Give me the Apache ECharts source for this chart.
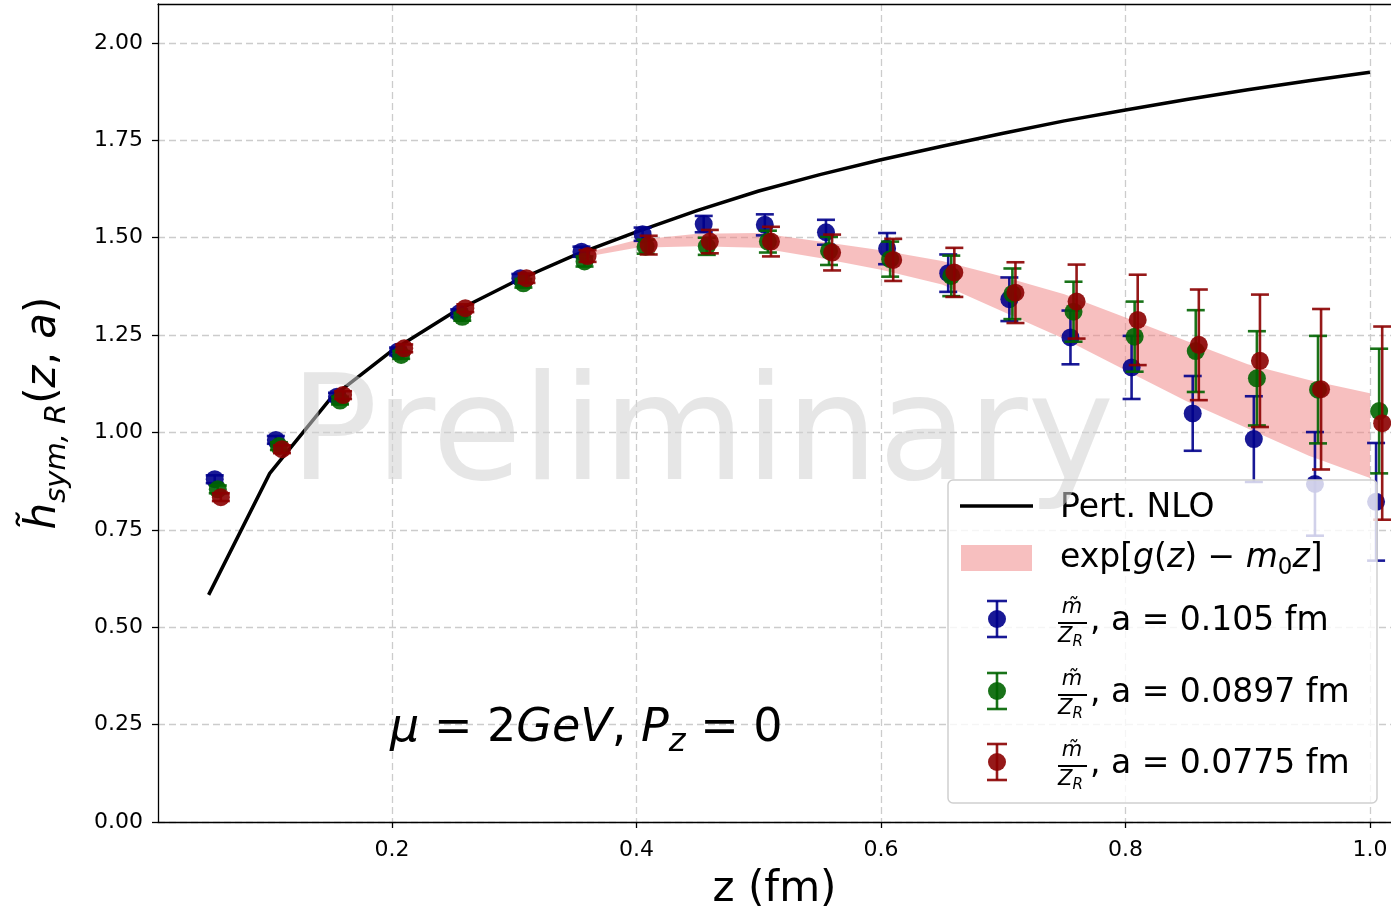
<!DOCTYPE html>
<html><head><meta charset="utf-8">
<script src="https://cdn.jsdelivr.net/npm/echarts@6/dist/echarts.min.js"></script>
<style>html,body{margin:0;padding:0;background:#fff}#c{width:1391px;height:914px}</style>
</head><body><div id="c"></div>
<script>
// ---- data ----
const xTicks = [0.2, 0.4, 0.6, 0.8, 1.0];
const yTicks = [0, 0.25, 0.5, 0.75, 1.0, 1.25, 1.5, 1.75, 2.0];

const nloZ = [0.05,0.10,0.15,0.20,0.25,0.30,0.35,0.40,0.45,0.50,0.55,0.60,0.65,0.70,0.75,0.80,0.85,0.90,0.95,1.00];
const nloV = [0.583,0.895,1.088,1.210,1.308,1.387,1.456,1.515,1.570,1.620,1.662,1.700,1.735,1.768,1.800,1.828,1.855,1.880,1.903,1.925];

const bandZ  = [0.36,0.40,0.45,0.50,0.55,0.60,0.65,0.70,0.75,0.80,0.85,0.90,0.95,1.00];
const bandHi = [1.462,1.494,1.510,1.512,1.490,1.468,1.440,1.400,1.355,1.295,1.235,1.175,1.135,1.101];
const bandLo = [1.452,1.474,1.478,1.474,1.448,1.418,1.380,1.310,1.240,1.160,1.080,1.010,0.940,0.883];

const zBlue  = [0.055,0.105,0.155,0.205,0.255,0.305,0.355,0.405,0.455,0.505,0.555,0.605,0.655,0.705,0.755,0.805,0.855,0.905,0.955,1.005];
const vBlue  = [0.880,0.981,1.092,1.208,1.306,1.396,1.464,1.509,1.535,1.533,1.514,1.472,1.409,1.342,1.244,1.167,1.049,0.983,0.868,0.822];
const eBlue  = [0.010,0.010,0.010,0.010,0.010,0.011,0.013,0.017,0.021,0.027,0.032,0.040,0.048,0.056,0.069,0.081,0.096,0.110,0.133,0.151];

const zGreen = [0.0575,0.1075,0.1575,0.2075,0.2575,0.3075,0.3575,0.4075,0.4575,0.5075,0.5575,0.6075,0.6575,0.7075,0.7575,0.8075,0.8575,0.9075,0.9575,1.0075];
const vGreen = [0.854,0.965,1.082,1.199,1.297,1.383,1.439,1.477,1.478,1.490,1.466,1.445,1.402,1.356,1.310,1.246,1.209,1.139,1.110,1.055];
const eGreen = [0.010,0.010,0.010,0.010,0.010,0.011,0.013,0.018,0.022,0.028,0.036,0.045,0.052,0.065,0.077,0.090,0.105,0.121,0.138,0.160];

const zRed   = [0.060,0.110,0.160,0.210,0.260,0.310,0.360,0.410,0.460,0.510,0.560,0.610,0.660,0.710,0.760,0.810,0.860,0.910,0.960,1.010];
const vRed   = [0.834,0.957,1.096,1.216,1.319,1.396,1.453,1.481,1.490,1.490,1.462,1.443,1.411,1.359,1.336,1.289,1.225,1.184,1.111,1.024];
const eRed   = [0.010,0.010,0.010,0.010,0.010,0.012,0.015,0.024,0.030,0.038,0.046,0.054,0.063,0.078,0.095,0.116,0.142,0.170,0.206,0.248];

const legendLabels = ['Pert. NLO', 'exp[g(z) − m₀z]', 'a = 0.105 fm', 'a = 0.0897 fm', 'a = 0.0775 fm'];

// ---- styles ----
const FONT = 'DejaVu Sans';
const C_BLUE = '#00008b', C_GREEN = '#006400', C_RED = '#8b0000';

function errRender(color) {
  return function (params, api) {
    const z = api.value(0), v = api.value(1), e = api.value(2);
    const t = api.coord([z, v + e]), b = api.coord([z, v - e]), c = api.coord([z, v]);
    const cw = 9;
    const ls = { stroke: color, lineWidth: 2.6, opacity: 0.9 };
    return { type: 'group', children: [
      { type: 'line', shape: { x1: t[0], y1: t[1], x2: b[0], y2: b[1] }, style: ls },
      { type: 'line', shape: { x1: t[0] - cw, y1: t[1], x2: t[0] + cw, y2: t[1] }, style: ls },
      { type: 'line', shape: { x1: b[0] - cw, y1: b[1], x2: b[0] + cw, y2: b[1] }, style: ls },
      { type: 'circle', shape: { cx: c[0], cy: c[1], r: 9 }, style: { fill: color, opacity: 0.9 } }
    ]};
  };
}
function errData(zs, vs, es) { return zs.map((z, i) => [z, vs[i], es[i]]); }

function bandRender(params, api) {
  if (params.dataIndex !== 0) return null;
  const pts = [];
  for (let i = 0; i < bandZ.length; i++) pts.push(api.coord([bandZ[i], bandHi[i]]));
  for (let i = bandZ.length - 1; i >= 0; i--) pts.push(api.coord([bandZ[i], bandLo[i]]));
  return { type: 'polygon', shape: { points: pts }, style: { fill: 'rgba(240,128,128,0.5)' } };
}

// legend graphic
const LX = 948, LY = 480;
function legendErrIcon(cy, color) {
  const x = 997;
  const ls = { stroke: color, lineWidth: 2.6, opacity: 0.9 };
  return [
    { type: 'line', z: 60, shape: { x1: x, y1: cy - 18, x2: x, y2: cy + 18 }, style: ls },
    { type: 'line', z: 60, shape: { x1: x - 10, y1: cy - 18, x2: x + 10, y2: cy - 18 }, style: ls },
    { type: 'line', z: 60, shape: { x1: x - 10, y1: cy + 18, x2: x + 10, y2: cy + 18 }, style: ls },
    { type: 'circle', z: 60, shape: { cx: x, cy: cy, r: 9 }, style: { fill: color, opacity: 0.9 } }
  ];
}
function legendFracLabel(cy, label) {
  return [
    { type: 'text', z: 60, x: 1072, y: cy - 11, style: { text: 'm\u0303', fontFamily: FONT, fontStyle: 'italic', fontSize: 21, fill: '#000', align: 'center', verticalAlign: 'middle' } },
    { type: 'line', z: 60, shape: { x1: 1058, y1: cy + 4, x2: 1087, y2: cy + 4 }, style: { stroke: '#000', lineWidth: 2 } },
    { type: 'text', z: 60, x: 1058, y: cy + 18, style: { text: '{i|Z}{s|R}', fontFamily: FONT, fontSize: 21, fill: '#000', align: 'left', verticalAlign: 'middle',
        rich: { i: { fontFamily: FONT, fontStyle: 'italic', fontSize: 21, lineHeight: 26, verticalAlign: 'middle', fill: '#000' },
                s: { fontFamily: FONT, fontStyle: 'italic', fontSize: 15, lineHeight: 15, verticalAlign: 'bottom', fill: '#000' } } } },
    { type: 'text', z: 60, x: 1090, y: cy + 2, style: { text: ', ' + label, fontFamily: FONT, fontSize: 33, fill: '#000', align: 'left', verticalAlign: 'middle' } }
  ];
}

const graphics = [
  { type: 'rect', z: 50, shape: { x: LX, y: LY, width: 429, height: 323, r: 5 }, style: { fill: 'rgba(255,255,255,0.8)', stroke: '#cfcfcf', lineWidth: 1.5 } },
  { type: 'line', z: 60, shape: { x1: 960, y1: 506, x2: 1033, y2: 506 }, style: { stroke: '#000', lineWidth: 3.5 } },
  { type: 'text', z: 60, x: 1060, y: 508, style: { text: legendLabels[0], fontFamily: FONT, fontSize: 33, fill: '#000', align: 'left', verticalAlign: 'middle' } },
  { type: 'rect', z: 60, shape: { x: 961, y: 545, width: 71, height: 26 }, style: { fill: 'rgba(240,128,128,0.5)' } },
  { type: 'text', z: 60, x: 1060, y: 558, style: {
      text: '{r|exp[}{i|g}{r|(}{i|z}{r|) − }{i|m}{s|0}{i|z}{r|]}', fontFamily: FONT, fontSize: 33, fill: '#000', align: 'left', verticalAlign: 'middle',
      rich: { r: { fontFamily: FONT, fontSize: 33, lineHeight: 44, verticalAlign: 'middle', fill: '#000' },
              i: { fontFamily: FONT, fontStyle: 'italic', fontSize: 33, lineHeight: 44, verticalAlign: 'middle', fill: '#000' },
              s: { fontFamily: FONT, fontSize: 23, lineHeight: 23, verticalAlign: 'bottom', fill: '#000' } } } },
  ...legendErrIcon(619, C_BLUE), ...legendFracLabel(619, legendLabels[2]),
  ...legendErrIcon(691, C_GREEN), ...legendFracLabel(691, legendLabels[3]),
  ...legendErrIcon(762, C_RED), ...legendFracLabel(762, legendLabels[4]),
  // annotation
  { type: 'text', z: 40, x: 390, y: 729, style: {
      text: '{i|μ}{r| = 2}{i|GeV}{r|, }{i|P}{s|z}{r| = 0}', fontFamily: FONT, fontSize: 46, fill: '#000', align: 'left', verticalAlign: 'middle',
      rich: { r: { fontFamily: FONT, fontSize: 46, lineHeight: 60, verticalAlign: 'middle', fill: '#000' },
              i: { fontFamily: FONT, fontStyle: 'italic', fontSize: 46, lineHeight: 60, verticalAlign: 'middle', fill: '#000' },
              s: { fontFamily: FONT, fontStyle: 'italic', fontSize: 32, lineHeight: 32, verticalAlign: 'bottom', fill: '#000' } } } },
  // watermark
  { type: 'text', z: 200, x: 702, y: 441, style: { text: 'Preliminary', fontFamily: FONT, fontSize: 146, fill: 'rgba(209,209,209,0.55)', align: 'center', verticalAlign: 'middle' } }
];

const X_MIN = 0.0086, X_MAX = 1.0172;
const chart = echarts.init(document.getElementById('c'), null, { renderer: 'canvas' });
chart.setOption({
  animation: false,
  backgroundColor: '#fff',
  grid: { left: 158, top: 4, right: 0, height: 818, containLabel: false, outerBoundsMode: 'none' },
  xAxis: [{
    type: 'value', min: X_MIN, max: X_MAX, position: 'bottom',
    name: 'z (fm)', nameLocation: 'middle', nameGap: 47,
    nameTextStyle: { fontFamily: FONT, fontSize: 42, color: '#000' },
    axisLine: { show: true, lineStyle: { color: '#000', width: 1.3 } },
    axisTick: { show: true, customValues: xTicks, length: 6, lineStyle: { color: '#000', width: 1.3 } },
    axisLabel: { customValues: xTicks, formatter: v => v.toFixed(1), fontFamily: FONT, fontSize: 22, color: '#000', margin: 17 },
    splitLine: { show: true, lineStyle: { color: '#cccccc', type: [7, 4], width: 1.3 } }
  }, {
    type: 'value', min: X_MIN, max: X_MAX, position: 'top',
    axisLine: { show: true, lineStyle: { color: '#000', width: 1.3 } },
    axisTick: { show: false }, axisLabel: { show: false }, splitLine: { show: false }
  }],
  yAxis: {
    type: 'value', min: 0, max: 2.1,
    name: '{h|h\u0303}{s|sym, R}{p|(}{i|z}{p|, }{i|a}{p|)}', nameLocation: 'middle', nameRotate: 90, nameGap: 86,
    nameTextStyle: { fontFamily: FONT, fontSize: 42, color: '#000',
      rich: { h: { fontFamily: FONT, fontStyle: 'italic', fontSize: 42, lineHeight: 56, verticalAlign: 'middle', color: '#000' },
              i: { fontFamily: FONT, fontStyle: 'italic', fontSize: 42, lineHeight: 56, verticalAlign: 'middle', color: '#000' },
              p: { fontFamily: FONT, fontSize: 42, lineHeight: 56, verticalAlign: 'middle', color: '#000' },
              s: { fontFamily: FONT, fontStyle: 'italic', fontSize: 29, lineHeight: 28, verticalAlign: 'bottom', color: '#000' } } },
    axisLine: { show: true, lineStyle: { color: '#000', width: 1.3 } },
    axisTick: { show: true, customValues: yTicks, length: 6, lineStyle: { color: '#000', width: 1.3 } },
    axisLabel: { customValues: yTicks, formatter: v => v.toFixed(2), fontFamily: FONT, fontSize: 22, color: '#000', margin: 15 },
    splitLine: { show: true, lineStyle: { color: '#cccccc', type: [7, 4], width: 1.3 } }
  },
  graphic: { elements: graphics },
  series: [
    { name: 'band', type: 'custom', renderItem: bandRender, encode: { x: 0, y: [1, 2] },
      data: bandZ.map((z, i) => [z, bandLo[i], bandHi[i]]), z: 1, silent: true },
    { name: legendLabels[0], type: 'line', data: nloZ.map((z, i) => [z, nloV[i]]), showSymbol: false,
      lineStyle: { color: '#000', width: 3.5 }, z: 2, silent: true },
    { name: legendLabels[2], type: 'custom', renderItem: errRender(C_BLUE), encode: { x: 0, y: 1 }, data: errData(zBlue, vBlue, eBlue), z: 3, clip: false },
    { name: legendLabels[3], type: 'custom', renderItem: errRender(C_GREEN), encode: { x: 0, y: 1 }, data: errData(zGreen, vGreen, eGreen), z: 3, clip: false },
    { name: legendLabels[4], type: 'custom', renderItem: errRender(C_RED), encode: { x: 0, y: 1 }, data: errData(zRed, vRed, eRed), z: 3, clip: false }
  ]
});
</script>
</body></html>
